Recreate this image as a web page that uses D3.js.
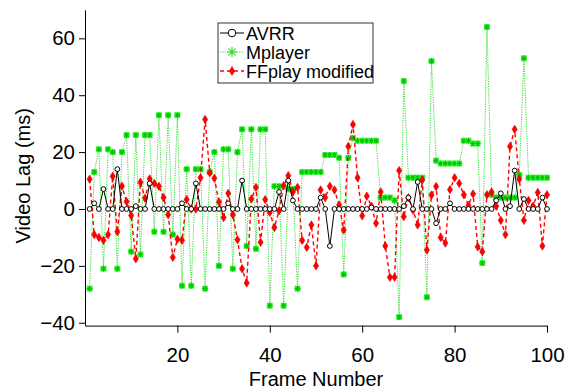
<!DOCTYPE html>
<html>
<head>
<meta charset="utf-8">
<script src="https://cdn.jsdelivr.net/npm/d3@7"></script>
<style>
  html, body { margin: 0; padding: 0; background: #fff; }
  svg { display: block; font-family: "Liberation Sans", Arial, sans-serif; }
  .axis path, .axis line { stroke: #000; stroke-width: 1; }
  .axis text { font-size: 20.5px; fill: #000; }
  .title { font-size: 20px; fill: #000; }
  .legend text { font-size: 18px; fill: #000; }
</style>
</head>
<body>
<div id="chart"></div>
<script>
// frame numbers on the x axis
const frames = d3.range(1, 101);

// video lag (ms) per frame
const avrr = [
  0, 2, 0, 7, 0, 0, 14, 0, 0, 0,
  1, 0, 0, 9, 0, 0, 0, 0, 0, 0,
  2, 0, 0, 9, 0, 0, 0, 0, 0, 0,
  2, 0, 0, 10, 0, 0, 0, 0, 0, 0,
  0, 6, 0, 10, 3, 0, 0, 0, 0, 0,
  4, 0, -13, 0, 0, 0, 0, 0, 0, 0,
  0, 0.5, 0, 0, 0, 0, 0, 0, 1, 4,
  0, 9.5, 0, 0, 0, -5, 0, 0, 2, 0,
  0, 0, 0, 0, 0, 0, 0, 0, 3, 5.5,
  0, 1, 13.5, 0, 3.5, 0, 0, 0, 4, 0
];
const mplayer = [
  -28, 13, 21, -21, 21, 20, -21, 20, 26, -15,
  26, -16, 26, 26, -8, 33, -8, 33, -9, 33,
  -27, 14, -27, 14, 14, -28, 13, 20, -20, 21,
  21, -21, 20, 28, -13, 28, -14, 28, 28, -34,
  8, 8, -34, 7, 7, -28, 13, 13, 13, 13,
  13, 19, 19, 19, 18, -23, 18, 25, 24, 24,
  24, 24, 24, 4, 4, 4, 3, -38, 45, 11,
  11, 11, 11, -31, 52, 17, 16, 16, 16, 16,
  16, 24, 24, 23, 23, -19, 64, 5, 4, 4,
  4, 4, 4, 12, 53, 11, 11, 11, 11, 11
];
const ffplay = [
  10.5, -9, -10, -11, -9, 11.5, -8, 8, 2.6, -2.3,
  -17.5, 9.4, 3.8, 10.6, 9, 8, 4, -2, -17, -10.6,
  -11, 3.3, 0, 0, 11, 31.5, 12.7, 10.8, 2.5, -3,
  5.5, -2, -10.8, -21, -26, 3.5, 7.6, -11.7, 3.3, -1.2,
  -6.5, -0.6, 8.2, 11.7, 6, 7.6, -11, -13.5, -5.6, -20,
  6.7, 4, 8, 6.7, 1.4, -7.4, 22, 29.7, 11, -2.4,
  4.5, 1, -5, 6, -13, -24, -24, 13.5, -2.7, 4,
  -0.4, -5.6, 10.2, -14.4, 4.9, 7.9, -10, -12, 6.8, 11,
  9, 5, 1.3, 5.3, -13.3, -15, 5, 6, 1, -4,
  -9, 22, 28, 10.5, -4, 3, 1, 5.8, -13, 5
];

const seriesNames = ['AVRR', 'Mplayer', 'FFplay modified'];
const xTicks = [20, 40, 60, 80, 100];
const yTicks = [-40, -20, 0, 20, 40, 60];

const width = 565;
const height = 389;

// plot box
const plotLeft = 85;
const plotRight = 547;
const plotTop = 9.9;
const plotBottom = 325.6;

const $svg = d3.select('#chart').append('svg')
  .attr('width', width)
  .attr('height', height);

const scaleX = d3.scaleLinear().domain([0, 100]).range([plotLeft, plotRight]);
const scaleY = d3.scaleLinear().domain([-41, 70]).range([plotBottom, plotTop]);

// axes
$svg.append('g')
  .attr('class', 'axis y')
  .attr('transform', `translate(${plotLeft},0)`)
  .call(d3.axisLeft(scaleY).tickValues(yTicks).tickSize(6).tickSizeOuter(0).tickPadding(4));

$svg.append('g')
  .attr('class', 'axis x')
  .attr('transform', `translate(0,${plotBottom})`)
  .call(d3.axisBottom(scaleX).tickValues(xTicks).tickSize(7).tickSizeOuter(0).tickPadding(15));

$svg.selectAll('.axis').attr('font-family', null).attr('font-size', null);

$svg.append('text')
  .attr('class', 'title')
  .attr('x', (plotLeft + plotRight) / 2)
  .attr('y', 386)
  .attr('text-anchor', 'middle')
  .text('Frame Number');

$svg.append('text')
  .attr('class', 'title')
  .attr('transform', `translate(30,${(plotTop + plotBottom) / 2 + 8}) rotate(-90)`)
  .attr('text-anchor', 'middle')
  .text('Video Lag (ms)');

// markers
const star = 'M-3,0H3M0,-3V3M-2.2,-2.2L2.2,2.2M-2.2,2.2L2.2,-2.2';
const diamond = 'M0,-4.2L2.6,0L0,4.2L-2.6,0Z';

function drawStar(g) {
  g.append('rect').attr('x', -3).attr('y', -3).attr('width', 6).attr('height', 6)
    .attr('fill', '#5dff5d');
  g.append('path').attr('d', star).attr('stroke', '#00c800').attr('stroke-width', 1.1).attr('fill', 'none');
}
function drawDiamond(g) {
  g.append('path').attr('d', diamond).attr('fill', '#ff0000').attr('stroke', '#e00000').attr('stroke-width', 0.6);
}
function drawCircle(g) {
  g.append('circle').attr('r', 2.4).attr('fill', '#fff').attr('stroke', '#000').attr('stroke-width', 1);
}

const line = d3.line()
  .x((d, i) => scaleX(frames[i]))
  .y(d => scaleY(d));

const layers = [
  { values: mplayer, color: '#2fe02f', width: 1, dash: '1.2,1.2', marker: drawStar },
  { values: ffplay, color: '#ff0000', width: 1.4, dash: '4,3', marker: drawDiamond },
  { values: avrr, color: '#000', width: 1, dash: null, marker: drawCircle }
];

layers.forEach(l => {
  const $g = $svg.append('g');
  $g.append('path')
    .datum(l.values)
    .attr('d', line)
    .attr('fill', 'none')
    .attr('stroke', l.color)
    .attr('stroke-width', l.width)
    .attr('stroke-dasharray', l.dash);
  $g.selectAll('g.pt')
    .data(l.values)
    .join('g')
    .attr('class', 'pt')
    .attr('transform', (d, i) => `translate(${scaleX(frames[i])},${scaleY(d)})`)
    .each(function () { l.marker(d3.select(this)); });
});

// legend
const legendX = 218;
const legendY = 23;
const $legend = $svg.append('g').attr('class', 'legend');
$legend.append('rect')
  .attr('x', legendX).attr('y', legendY)
  .attr('width', 155).attr('height', 60)
  .attr('fill', '#fff').attr('stroke', '#333').attr('stroke-width', 1);

const legendLayers = [layers[2], layers[0], layers[1]];
seriesNames.forEach((name, i) => {
  const l = legendLayers[i];
  const cy = legendY + 10 + i * 19;
  const $row = $legend.append('g');
  $row.append('line')
    .attr('x1', legendX + 2).attr('x2', legendX + 26)
    .attr('y1', cy).attr('y2', cy)
    .attr('stroke', l.color).attr('stroke-width', l.width)
    .attr('stroke-dasharray', l.dash);
  const $m = $row.append('g').attr('transform', `translate(${legendX + 14},${cy})`);
  if (i === 0) {
    $m.append('circle').attr('r', 3.8).attr('fill', '#fff').attr('stroke', '#000');
  } else if (i === 1) {
    $m.append('path').attr('d', 'M-5,0H5M0,-5V5M-3.6,-3.6L3.6,3.6M-3.6,3.6L3.6,-3.6')
      .attr('stroke', '#2fe02f').attr('stroke-width', 1.2);
  } else {
    $m.append('path').attr('d', 'M0,-5L3,0L0,5L-3,0Z').attr('fill', '#f00');
  }
  $row.append('text')
    .attr('x', legendX + 28).attr('y', cy + 6.5)
    .text(name);
});
</script>
</body>
</html>
